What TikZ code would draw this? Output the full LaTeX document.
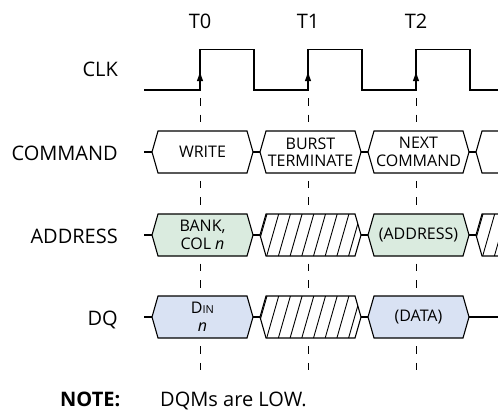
\documentclass[tikz,border=0pt]{standalone}
\usepackage{fontspec}
\setmainfont{Open Sans}
\usetikzlibrary{arrows.meta,positioning}

\definecolor{addrgreen}{RGB}{218,235,223}
\definecolor{dqblue}{RGB}{217,226,243}

% hexagon of a bus: name, left point x, row y, style, text
\newcommand{\busbox}[5]{%
  \coordinate (#1-w) at (#2,#3);
  \coordinate (#1-e) at (#2+101,#3);
  \path[#4] (#1-w) -- ++(6,-21) -- ++(89,0) -- (#1-e) -- ++(-6,21) -- ++(-89,0) -- cycle;
  \node[box text] (#1) at (#2+50.5,#3) {#5};
}
% hatched hexagon (don't care): name, left point x, row y
\newcommand{\hatchbox}[3]{%
  \coordinate (#1-w) at (#2,#3);
  \coordinate (#1-e) at (#2+101,#3);
  \begin{scope}
    \clip (#1-w) -- ++(6,-21) -- ++(89,0) -- (#1-e) -- ++(-6,21) -- ++(-89,0) -- cycle;
    \fill[white] (#2,#3-22) rectangle (#2+101,#3+22);
    \foreach \k in {0,...,9}
      \draw[hatch] (#2-5+\k*11.7,#3+21) -- ++(12,-42);
  \end{scope}
  \draw[plain box, fill=none] (#1-w) -- ++(6,-21) -- ++(89,0) -- (#1-e) -- ++(-6,21) -- ++(-89,0) -- cycle;
}

\begin{document}
\begin{tikzpicture}[
    x=1pt, y=-1pt,
    wave/.style={line width=1.2pt},
    bus line/.style={line width=1.1pt},
    edge mark/.style={line width=1.1pt, -{Latex[length=10pt,width=6.5pt]}},
    sample line/.style={line width=1pt, dash pattern=on 7.5pt off 9.06pt},
    plain box/.style={draw, fill=white, line width=1.1pt},
    addr box/.style={draw, fill=addrgreen, line width=1.1pt},
    dq box/.style={draw, fill=dqblue, line width=1.1pt},
    hatch/.style={line width=0.9pt},
    box text/.style={inner sep=0pt, align=center, font=\fontsize{16}{17.5}\selectfont},
    sig label/.style={inner sep=0pt, anchor=base east, font=\fontsize{20}{24}\selectfont},
    tick label/.style={inner sep=0pt, anchor=base, font=\fontsize{20}{24}\selectfont}
  ]
  \clip (0,0) rectangle (498,415);

  % clock edges
  \node[tick label] (t0) at (200,28) {T0};
  \node[tick label] (t1) at (308,28) {T1};
  \node[tick label] (t2) at (416,28) {T2};

  \foreach \x in {200,308,416}
    \draw[sample line] (\x,98) -- (\x,372);

  % CLK
  \node[sig label] (clk) at (118,76) {CLK};
  \draw[wave] (144,90) -- (200,90) -- (200,49.5) -- (254,49.5) -- (254,90)
    -- (308,90) -- (308,49.5) -- (362,49.5) -- (362,90)
    -- (416,90) -- (416,49.5) -- (470,49.5) -- (470,90) -- (498,90);
  \foreach \x in {200,308,416}
    \draw[edge mark] (\x,90) -- (\x,71);

  % COMMAND
  \node[sig label] (cmd) at (118,160.5) {COMMAND};
  \coordinate (cmd-start) at (144,152);
  \busbox{cmd0}{152}{152}{plain box}{WRITE}
  \busbox{cmd1}{260}{152}{plain box}{BURST\\TERMINATE}
  \busbox{cmd2}{368}{152}{plain box}{NEXT\\COMMAND}
  \busbox{cmd3}{476}{152}{plain box}{}

  % ADDRESS
  \node[sig label] (addr) at (118,243.5) {ADDRESS};
  \coordinate (addr-start) at (144,235);
  \busbox{addr0}{152}{235}{addr box}{BANK,\\COL \textit{n}}
  \hatchbox{addr1}{260}{235}
  \busbox{addr2}{368}{235}{addr box}{(ADDRESS)}
  \hatchbox{addr3}{476}{235}

  % DQ
  \node[sig label] (dq) at (118,325) {DQ};
  \coordinate (dq-start) at (144,317);
  \coordinate (dq-end) at (498,317);
  \busbox{dq0}{152}{317}{dq box}{D{\fontsize{11}{12}\selectfont IN}\\\textit{n}}
  \hatchbox{dq1}{260}{317}
  \busbox{dq2}{368}{317}{dq box}{(DATA)}

  \foreach \r in {cmd,addr}
    \draw[bus line] (\r-start) -- (\r0-w) (\r0-e) -- (\r1-w)
      (\r1-e) -- (\r2-w) (\r2-e) -- (\r3-w);
  \draw[bus line] (dq-start) -- (dq0-w) (dq0-e) -- (dq1-w)
    (dq1-e) -- (dq2-w) (dq2-e) -- (dq-end);

  % note
  \node[inner sep=0pt, anchor=base west, font=\fontsize{20}{24}\selectfont\bfseries] (note) at (60,406) {NOTE:};
  \node[inner sep=0pt, anchor=base west, font=\fontsize{20}{24}\selectfont] (notetext) at (160,406) {DQMs are LOW.};
\end{tikzpicture}
\end{document}
